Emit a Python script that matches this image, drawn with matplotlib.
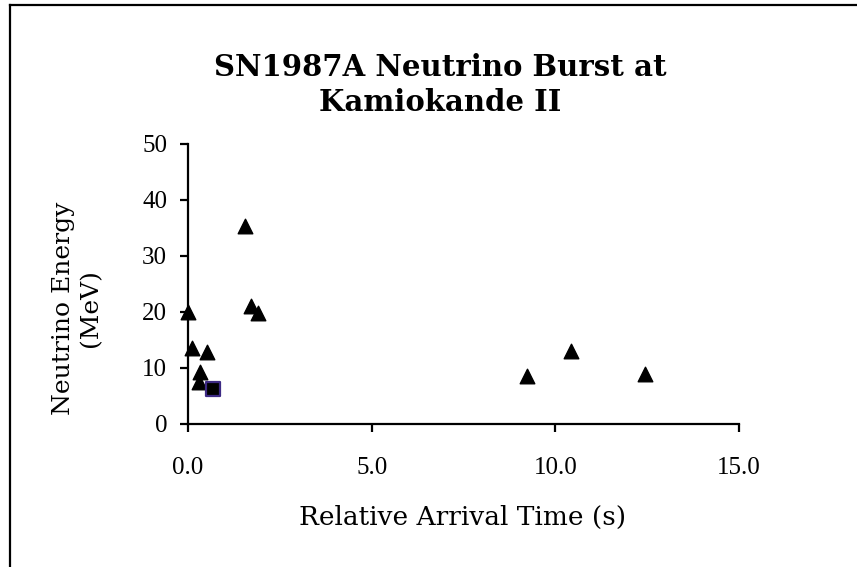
import matplotlib.pyplot as plt
from matplotlib.lines import Line2D

# Kamiokande II events
arrival_time = [0.000, 0.107, 0.303, 0.324, 0.507, 1.541, 1.728, 1.915, 9.219, 10.433, 12.439]
energy = [20.0, 13.5, 7.5, 9.2, 12.8, 35.4, 21.0, 19.8, 8.6, 13.0, 8.9]
# the one event drawn with a square marker
sq_time = [0.686]
sq_energy = [6.3]

x_ticks = [0, 5, 10, 15]
x_tick_labels = ["0.0", "5.0", "10.0", "15.0"]
y_ticks = [0, 10, 20, 30, 40, 50]

plt.rcParams['font.family'] = ['Liberation Serif', 'DejaVu Serif']

W, H = 857, 567
fig = plt.figure(figsize=(W / 100, H / 100), dpi=100)
ax = fig.add_axes([188 / W, 1 - 424 / H, (739 - 188) / W, (424 - 144) / H])

ax.scatter(arrival_time, energy, marker='^', s=110, color='black', zorder=3, clip_on=False)
ax.scatter(sq_time, sq_energy, marker='s', s=90, color='black', edgecolors='#3d2a84',
           linewidths=1.6, zorder=3, clip_on=False)

ax.set_xlim(0, 15)
ax.set_ylim(0, 50)
ax.set_xticks(x_ticks)
ax.set_xticklabels(x_tick_labels)
ax.set_yticks(y_ticks)
ax.spines['top'].set_visible(False)
ax.spines['right'].set_visible(False)
for s in ('left', 'bottom'):
    ax.spines[s].set_linewidth(1.6)
ax.tick_params(axis='both', direction='out', length=6, width=1.6, labelsize=18)
ax.tick_params(axis='x', pad=18)
ax.tick_params(axis='y', pad=9)

serif_wide = ['DejaVu Serif']
fig.text(463 / W, 1 - 517 / H, "Relative Arrival Time (s)", ha='center', va='center',
         fontsize=19, family=serif_wide)
fig.text(77 / W, 1 - 308 / H, "Neutrino Energy\n(MeV)", ha='center', va='center',
         rotation=90, fontsize=18, family=serif_wide, linespacing=1.25)

fig.text(440 / W, 1 - 85 / H, "SN1987A Neutrino Burst at\nKamiokande II", ha='center', va='center',
         fontsize=21, fontweight='bold', family=serif_wide, linespacing=1.25)

# frame lines along top and left edge
fig.add_artist(Line2D([10 / W, 1], [1 - 5 / H, 1 - 5 / H], color='black', lw=1.6))
fig.add_artist(Line2D([10 / W, 10 / W], [0, 1 - 5 / H], color='black', lw=1.6))

fig.savefig("out.png", dpi=100)
